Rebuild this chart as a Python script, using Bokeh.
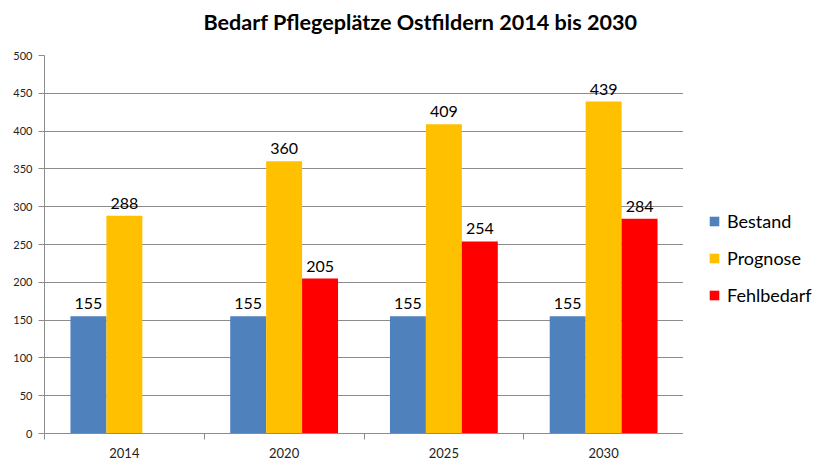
from bokeh.plotting import figure
from bokeh.layouts import row
from bokeh.models import ColumnDataSource, FixedTicker, LabelSet, Legend, LegendItem, Title
from bokeh.core.properties import value
from bokeh.transform import dodge
from bokeh.embed import file_html
from bokeh.resources import INLINE

years = ["2014", "2020", "2025", "2030"]
bestand = [155, 155, 155, 155]
prognose = [288, 360, 409, 439]
fehlbedarf = [None, 205, 254, 284]
series_names = ["Bestand", "Prognose", "Fehlbedarf"]
series_values = [bestand, prognose, fehlbedarf]
colors = ["#4F81BD", "#FFC000", "#FF0000"]
y_ticks = list(range(0, 501, 50))
title_text = "Bedarf Pflegeplätze Ostfildern 2014 bis 2030"

FONT = "Lato"
GRID = "#8C8C8C"
bar_w = 0.225
offsets = [-bar_w, 0.0, bar_w]

p = figure(width=683, height=460, x_range=(0, 4), y_range=(0, 500), title=None,
           output_backend="svg", toolbar_location=None,
           min_border_left=44, min_border_right=0, min_border_top=55, min_border_bottom=26)
# spacer between frame and title, then the title itself
p.add_layout(Title(text=" ", text_font_size="1px", standoff=18), "above")
p.add_layout(Title(text=title_text, align="left",
                   text_font=FONT, text_font_size="21.6px", text_font_style="bold",
                   text_color="#000000", offset=159, standoff=0), "above")
p.outline_line_color = None
p.background_fill_color = "white"
p.border_fill_color = "white"

# axes
p.yaxis.ticker = FixedTicker(ticks=y_ticks)
p.yaxis.major_tick_out = 6
p.yaxis.major_tick_in = 0
p.yaxis.minor_tick_line_color = None
p.yaxis.axis_line_color = GRID
p.yaxis.major_tick_line_color = GRID
p.yaxis.major_label_text_font = FONT
p.yaxis.major_label_text_font_size = "11px"
p.yaxis.major_label_text_color = "#222222"
p.yaxis.major_label_standoff = 6

centers = [i + 0.5 for i in range(len(years))]
p.xaxis.ticker = FixedTicker(ticks=centers, minor_ticks=list(range(len(years) + 1)))
p.xaxis.major_label_overrides = {c: y for c, y in zip(centers, years)}
p.xaxis.major_tick_line_color = None
p.xaxis.major_tick_out = 0
p.xaxis.major_tick_in = 0
p.xaxis.minor_tick_out = 6
p.xaxis.minor_tick_in = 0
p.xaxis.minor_tick_line_color = GRID
p.xaxis.axis_line_color = GRID
p.xaxis.major_label_text_font = FONT
p.xaxis.major_label_text_font_size = "13px"
p.xaxis.major_label_text_color = "#222222"
p.xaxis.major_label_standoff = 8

p.xgrid.grid_line_color = None
p.ygrid.ticker = FixedTicker(ticks=y_ticks)
p.ygrid.grid_line_color = GRID

# legend panel (a separate figure whose ranges show none of the bars)
lp = figure(width=150, height=460, x_range=(-20, -19), y_range=(0, 1),
            output_backend="svg", toolbar_location=None,
            min_border=0, outline_line_color=None)
lp.axis.visible = False
lp.grid.visible = False
items = []

for name, vals, col, off in zip(series_names, series_values, colors, offsets):
    xs = [c for c, v in zip(centers, vals) if v is not None]
    vs = [v for v in vals if v is not None]
    src = ColumnDataSource(dict(x=xs, v=vs, label=[str(v) for v in vs]))
    p.vbar(x=dodge("x", off), top="v", width=bar_w, source=src,
           fill_color=col, line_color=None)
    p.add_layout(LabelSet(x=dodge("x", off), y="v", text="label", source=src,
                          y_offset=7, text_align="center", text_baseline="bottom",
                          text_font=value(FONT), text_font_size="16px", text_color="#000000"))
    r = lp.vbar(x="x", top="v", width=bar_w, source=src, fill_color=col, line_color=None)
    items.append(LegendItem(label=name, renderers=[r]))

legend = Legend(items=items, location=(25, 127), border_line_color=None,
                background_fill_alpha=0, label_text_font=FONT,
                label_text_font_size="18px", label_text_color="#000000",
                glyph_width=12, glyph_height=12, label_standoff=7, spacing=15,
                padding=0, margin=0)
lp.add_layout(legend, "center")

layout = row(p, lp)
open("out.html", "w").write(file_html(layout, INLINE))
